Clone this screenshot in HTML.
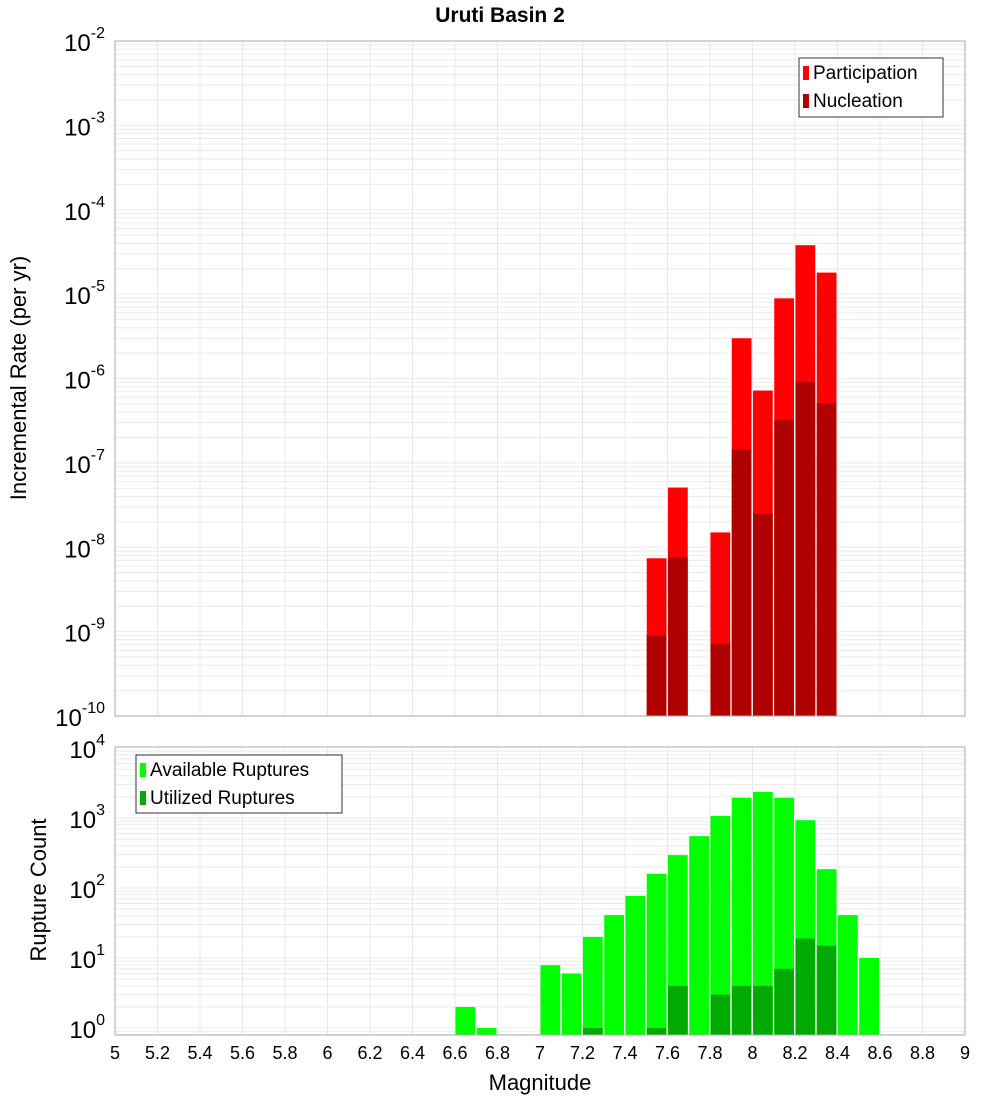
<!DOCTYPE html>
<html><head><meta charset="utf-8"><style>
body{margin:0;background:#fff;}
svg{display:block;font-family:"Liberation Sans","DejaVu Sans",sans-serif;}
</style></head><body>
<svg id="c" width="1000" height="1100" xmlns="http://www.w3.org/2000/svg">
<text x="500" y="22" text-anchor="middle" font-size="21" font-weight="bold">Uruti Basin 2</text>
<text transform="translate(26,378) rotate(-90)" text-anchor="middle" font-size="22">Incremental Rate (per yr)</text>
<text transform="translate(46,890) rotate(-90)" text-anchor="middle" font-size="22">Rupture Count</text>
<text x="540" y="1090" text-anchor="middle" font-size="22">Magnitude</text>
<g id="g"></g>
<g>
<rect x="799" y="58" width="144" height="59" fill="#fff" stroke="#333"/>
<rect x="803" y="66" width="6" height="14" fill="#ff0000"/>
<text x="813" y="79" font-size="19">Participation</text>
<rect x="803" y="94" width="6" height="14" fill="#b00000"/>
<text x="813" y="107" font-size="19">Nucleation</text>
</g>
<g>
<rect x="136" y="755" width="206" height="58" fill="#fff" stroke="#333"/>
<rect x="140" y="763" width="6" height="14" fill="#00ff00"/>
<text x="150" y="776" font-size="19">Available Ruptures</text>
<rect x="140" y="791" width="6" height="14" fill="#00aa00"/>
<text x="150" y="804" font-size="19">Utilized Ruptures</text>
</g>
</svg>
<script>
const topBins=[7.5,7.6,7.8,7.9,8.0,8.1,8.2,8.3];
const participation=[7.4e-9,5.1e-8,1.5e-8,3.0e-6,7.2e-7,8.9e-6,3.8e-5,1.8e-5];
const nucleation=[9.1e-10,7.6e-9,7.1e-10,1.45e-7,2.5e-8,3.2e-7,9.1e-7,5.1e-7];
const botBins=[6.6,6.7,7.0,7.1,7.2,7.3,7.4,7.5,7.6,7.7,7.8,7.9,8.0,8.1,8.2,8.3,8.4,8.5];
const available=[2,1,7.9,6,20,41,77,160,295,550,1070,1950,2350,1950,930,186,41,10];
const utilBins=[7.2,7.5,7.6,7.8,7.9,8.0,8.1,8.2,8.3];
const utilized=[1,1,4,3,4,4,7,19,15];
const xTicks=[5,5.2,5.4,5.6,5.8,6,6.2,6.4,6.6,6.8,7,7.2,7.4,7.6,7.8,8,8.2,8.4,8.6,8.8,9];
const topExps=[-10,-9,-8,-7,-6,-5,-4,-3,-2];
const botExps=[0,1,2,3,4];

const NS="http://www.w3.org/2000/svg";
const g=document.getElementById('g');
const X0=115,X1=965;
const x=m=>X0+(m-5)/4*(X1-X0);
const T0=41,T1=716;
const yTop=v=>T0+(-2-Math.log10(v))*(T1-T0)/8;
const B0=747,B1=1035,BPD=70,BZ=1028;
const yBot=v=>BZ-Math.log10(v)*BPD;
function el(t,a){const e=document.createElementNS(NS,t);for(const k in a)e.setAttribute(k,a[k]);g.appendChild(e);return e;}

// frames bg
let r=el('rect',{x:X0,y:T0,width:X1-X0,height:T1-T0,fill:'#fff'});


r=el('rect',{x:X0,y:B0,width:X1-X0,height:B1-B0,fill:'#fff'});



// gridlines
xTicks.forEach(t=>{
  let l=el('line',{x1:x(t),x2:x(t),y1:T0,y2:T1,stroke:'#e8e8e8'});
  
  
  l=el('line',{x1:x(t),x2:x(t),y1:B0,y2:B1,stroke:'#e8e8e8'});
  
  
});
for(let e=-10;e<-2;e++)for(let k=1;k<10;k++){
  const yy=yTop(k*Math.pow(10,e));
  const l=el('line',{x1:X0,x2:X1,y1:yy,y2:yy,stroke:'#ebebeb'});
  
  
}
for(let e=-1;e<4;e++)for(let k=1;k<10;k++){
  const yy=yBot(k*Math.pow(10,e));
  if(yy<B0||yy>B1)continue;
  const l=el('line',{x1:X0,x2:X1,y1:yy,y2:yy,stroke:'#ebebeb'});
  
  
}
const BW=(x(5.1)-x(5));
function bar(m,v,yf,base,col,name){
  const yy=Math.max(yf(v),0);
  const b=el('rect',{x:x(m)+0.5,y:yy,width:BW-1.5,height:Math.max(base-yy,0),fill:col});
  
  
}
topBins.forEach((m,i)=>bar(m,participation[i],yTop,T1,'#ff0000','participation-bar'));
topBins.forEach((m,i)=>bar(m,nucleation[i],yTop,T1,'#b00000','nucleation-bar'));
botBins.forEach((m,i)=>bar(m,available[i],yBot,B1,'#00ff00','available-bar'));
utilBins.forEach((m,i)=>bar(m,utilized[i],yBot,B1,'#00aa00','utilized-bar'));

// borders
r=el('rect',{x:X0,y:T0,width:X1-X0,height:T1-T0,fill:'none',stroke:'#aaa'});


r=el('rect',{x:X0,y:B0,width:X1-X0,height:B1-B0,fill:'none',stroke:'#aaa'});



// tick labels
function expLabel(yy,e,name){
  const t=el('text',{x:105,y:yy+10,'text-anchor':'end','font-size':24});
  
  
  const a=document.createElementNS(NS,'tspan');a.textContent='10';t.appendChild(a);
  const b=document.createElementNS(NS,'tspan');b.setAttribute('dy','-13');b.setAttribute('font-size','16');b.textContent=String(e);t.appendChild(b);
  // right-align adjusts whole text; fine
}
topExps.forEach(e=>expLabel(yTop(Math.pow(10,e)),e,'top-y-tick-label'));
botExps.forEach(e=>expLabel(yBot(Math.pow(10,e)),e,'bottom-y-tick-label'));
xTicks.forEach(t=>{
  const l=el('text',{x:x(t),y:1059,'text-anchor':'middle','font-size':18});
  
  
  l.textContent=String(t);
});
</script>
</body></html>
